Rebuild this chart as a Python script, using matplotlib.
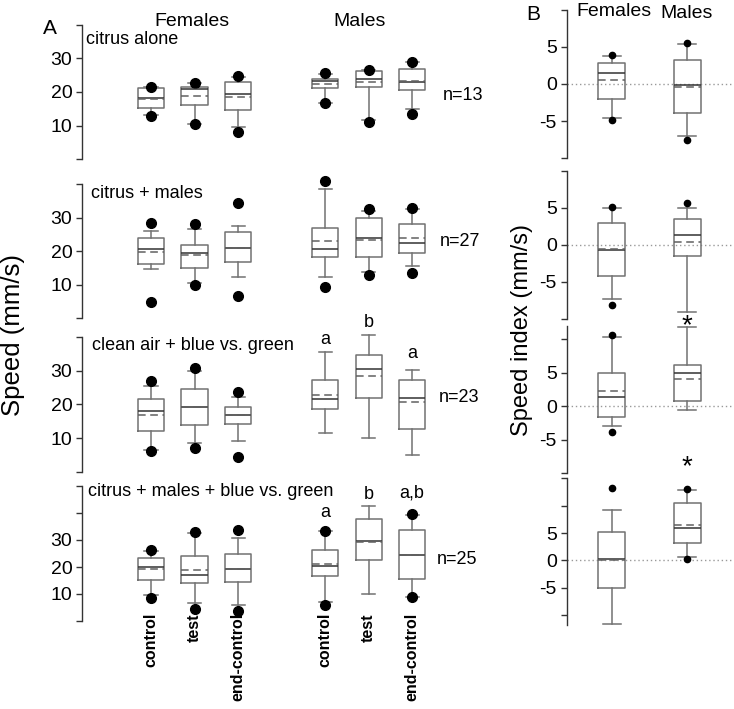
import matplotlib
matplotlib.use("Agg")
import matplotlib.pyplot as plt

plt.rcParams['font.family'] = ['Liberation Sans', 'DejaVu Sans']

W, H = 734, 709

# ---- panel A data: (whislo, q1, med, mean, q3, whishi, fliers) per box ----
groups = ["control", "test", "end-control"]
row_titles = ["citrus alone", "citrus + males",
              "clean air + blue vs. green", "citrus + males + blue vs. green"]
n_labels = ["n=13", "n=27", "n=23", "n=25"]

a1_whislo = [13.2, 10.5, 9.7, 16.6, 11.7, 14.9]
a1_q1 = [15.2, 16.1, 14.7, 21.1, 21.4, 20.6]
a1_med = [18.1, 20.8, 19.3, 23.2, 24.0, 23.0]
a1_mean = [18.0, 18.8, 18.5, 22.4, 23.0, 23.2]
a1_q3 = [21.1, 21.4, 23.1, 23.8, 26.2, 26.7]
a1_whishi = [21.4, 22.6, 24.5, 25.3, 26.5, 29.0]
a1_fliers = [[21.6, 12.9], [22.6, 10.5], [24.7, 8.0], [25.5, 16.6], [26.5, 11.1], [29.0, 13.5]]

a2_whislo = [14.7, 10.4, 12.2, 12.2, 13.9, 15.6]
a2_q1 = [16.1, 14.9, 16.8, 18.2, 18.2, 19.4]
a2_med = [20.7, 19.4, 21.0, 20.7, 24.0, 22.4]
a2_mean = [19.7, 18.9, 21.0, 23.0, 23.2, 23.9]
a2_q3 = [23.8, 21.9, 25.6, 26.8, 29.8, 28.0]
a2_whishi = [26.1, 26.7, 27.6, 38.5, 32.1, 32.5]
a2_fliers = [[28.5, 4.7], [28.1, 9.9], [34.3, 6.7], [41.0, 9.4], [32.5, 12.9], [32.8, 13.6]]

a3_whislo = [6.4, 8.6, 9.1, 11.4, 10.0, 5.0]
a3_q1 = [12.1, 13.8, 14.1, 18.5, 22.0, 12.8]
a3_med = [18.1, 19.1, 16.8, 21.5, 30.4, 21.8]
a3_mean = [16.8, 19.1, 16.7, 22.7, 28.4, 20.7]
a3_q3 = [21.7, 24.5, 19.3, 27.3, 34.6, 27.2]
a3_whishi = [25.4, 29.8, 22.3, 35.5, 40.6, 30.1]
a3_fliers = [[26.9, 6.1], [30.7, 7.1], [23.7, 4.4], [], [], []]

a4_whislo = [9.7, 6.6, 5.8, 6.9, 10.0, 9.0]
a4_q1 = [15.1, 14.0, 14.6, 16.7, 22.6, 15.7]
a4_med = [19.9, 16.9, 19.1, 20.5, 29.7, 24.4]
a4_mean = [19.1, 18.9, 19.1, 21.0, 29.1, 24.4]
a4_q3 = [23.4, 24.2, 24.9, 26.4, 37.7, 33.7]
a4_whishi = [25.9, 32.5, 30.6, 33.3, 42.6, 39.3]
a4_fliers = [[26.2, 8.4], [33.1, 4.3], [33.7, 3.7], [33.3, 5.9], [], [39.5, 9.0]]

a3_letters = ["a", "b", "a"]
a3_letter_y = [39.2, 44.5, 35.2]
a4_letters = ["a", "b", "a,b"]
a4_letter_y = [40.1, 46.7, 47.3]

# ---- panel B data: Females, Males ----
b1 = dict(whislo=[-4.6, -7.0], q1=[-2.0, -3.9], med=[1.5, -0.1], mean=[0.5, -0.4],
          q3=[2.8, 3.2], whishi=[3.8, 5.4], fliers=[[3.9, -4.8], [5.5, -7.6]])
b2 = dict(whislo=[-7.3, -9.1], q1=[-4.2, -1.5], med=[-0.7, 1.3], mean=[-0.6, 0.4],
          q3=[2.9, 3.5], whishi=[5.0, 5.0], fliers=[[5.1, -8.1], [5.7]])
b3 = dict(whislo=[-3.0, -0.5], q1=[-1.6, 0.8], med=[1.4, 5.0], mean=[2.3, 4.1],
          q3=[5.0, 6.2], whishi=[10.3, 11.8], fliers=[[10.7, -3.8], []])
b4 = dict(whislo=[-11.7, 0.6], q1=[-5.1, 3.1], med=[0.3, 5.9], mean=[0.0, 6.5],
          q3=[5.1, 10.5], whishi=[9.3, 12.9], fliers=[[13.2], [13.0, 0.3]])
b_star_y = [None, None, 12.0, 17.0]


def fig_rect(x0, y_top, x1, y_bot):
    return [x0 / W, 1 - y_bot / H, (x1 - x0) / W, (y_bot - y_top) / H]


BOXC = '#727272'
MEDC = '#333333'


def draw_boxes(ax, stats, positions, width, capw, msize):
    parts = ax.bxp(stats, positions=positions, widths=width, capwidths=capw,
                   showmeans=True, meanline=True, patch_artist=False,
                   boxprops=dict(color=BOXC, lw=1.1),
                   whiskerprops=dict(color=BOXC, lw=1.1),
                   capprops=dict(color=BOXC, lw=1.1),
                   medianprops=dict(color=MEDC, lw=1.1),
                   meanprops=dict(color='#606060', lw=1.1, ls=(0, (5, 3))),
                   flierprops=dict(marker='o', markerfacecolor='black',
                                   markeredgecolor='black', markersize=msize))
    for arts in parts.values():
        for a in arts:
            a.set_clip_on(False)


def style_axis(ax, ylim, ticks, labels):
    ax.set_ylim(*ylim)
    for s in ['top', 'right', 'bottom']:
        ax.spines[s].set_visible(False)
    ax.spines['left'].set_color('#333333')
    ax.spines['left'].set_linewidth(1.0)
    ax.set_xticks([])
    ax.set_yticks(ticks)
    ax.set_yticklabels(labels)
    ax.tick_params(axis='y', direction='out', length=4, width=1.0, color='#333333',
                   labelsize=14, pad=3)
    ax.patch.set_visible(False)


fig = plt.figure(figsize=(W / 100, H / 100), dpi=100)

# panel A
a_rows = [
    (a1_whislo, a1_q1, a1_med, a1_mean, a1_q3, a1_whishi, a1_fliers),
    (a2_whislo, a2_q1, a2_med, a2_mean, a2_q3, a2_whishi, a2_fliers),
    (a3_whislo, a3_q1, a3_med, a3_mean, a3_q3, a3_whishi, a3_fliers),
    (a4_whislo, a4_q1, a4_med, a4_mean, a4_q3, a4_whishi, a4_fliers),
]
a_extent = [(24.6, 159.4), (184.0, 318.2), (337.2, 471.6), (486.0, 621.0)]
a_ylim = [(0, 40), (0, 40), (0, 40), (0, 50)]
a_pos = [1, 2, 3, 5, 6, 7]
n_xy = [(7.71, 18.9), (7.63, 22.8), (7.61, 22.1), (7.56, 22.9)]

a_axes = []
for i, row in enumerate(a_rows):
    top, bot = a_extent[i]
    ax = fig.add_axes(fig_rect(82, top, 480, bot))
    wl, q1, md, mn, q3, wh, fl = row
    stats = [dict(whislo=wl[k], q1=q1[k], med=md[k], mean=mn[k], q3=q3[k],
                  whishi=wh[k], fliers=fl[k]) for k in range(6)]
    draw_boxes(ax, stats, a_pos, 0.6, 0.3, 7)
    ax.set_xlim(-0.586, 8.56)
    lo, hi = a_ylim[i]
    ticks = list(range(lo, hi + 1, 10))
    labels = [str(t) if t in (10, 20, 30) else '' for t in ticks]
    style_axis(ax, a_ylim[i], ticks, labels)
    ax.text(n_xy[i][0], n_xy[i][1], n_labels[i], fontsize=13, va='center', ha='left')
    a_axes.append(ax)

# row titles (figure pixel positions)
title_px = [(86, 39), (90.7, 194), (92, 346), (87.7, 491.7)]
for (x, y), t in zip(title_px, row_titles):
    fig.text(x / W, 1 - y / H, t, fontsize=13, va='center', ha='left')

for lab, ly, p in zip(a3_letters, a3_letter_y, a_pos[3:]):
    a_axes[2].text(p, ly, lab, fontsize=13, ha='center', va='center', clip_on=False)
for lab, ly, p in zip(a4_letters, a4_letter_y, a_pos[3:]):
    a_axes[3].text(p, ly, lab, fontsize=13, ha='center', va='center', clip_on=False)

# category labels below last row
for p, g in zip(a_pos, groups * 2):
    xd = a_axes[3].transData.transform((p, 0))[0]
    fig.text(xd / fig.dpi / (W / 100), 1 - 613 / H, g, rotation=90, fontsize=11.5,
             fontweight='bold', ha='center', va='top')

fig.text(50 / W, 1 - 28 / H, "A", fontsize=15, ha='center', va='center')
fig.text(192 / W, 1 - 22 / H, "Females", fontsize=14, ha='center', va='center')
fig.text(360 / W, 1 - 22 / H, "Males", fontsize=14, ha='center', va='center')
fig.text(13 / W, 1 - 335 / H, "Speed (mm/s)", fontsize=18.5, rotation=90,
         ha='center', va='center')

# panel B
b_rows = [b1, b2, b3, b4]
b_extent = [(9.5, 158.2), (170.7, 318.7), (326.0, 473.3), (478.3, 625.0)]
b_ylim = [(-10, 10), (-10, 10), (-10, 12), (-11.8, 15)]
b_ticks = [[-10, -5, 0, 5, 10], [-10, -5, 0, 5, 10], [-10, -5, 0, 5, 10],
           [-10, -5, 0, 5, 10, 15]]
for i, b in enumerate(b_rows):
    top, bot = b_extent[i]
    ax = fig.add_axes(fig_rect(566.7, top, 733, bot))
    ax.axhline(0, color='#999999', lw=1.0, ls=(0, (1, 2)), zorder=0)
    stats = [dict(whislo=b['whislo'][k], q1=b['q1'][k], med=b['med'][k],
                  mean=b['mean'][k], q3=b['q3'][k], whishi=b['whishi'][k],
                  fliers=b['fliers'][k]) for k in range(2)]
    draw_boxes(ax, stats, [1, 2], 0.36, 0.24, 4.5)
    ax.set_xlim(0.40, 2.61)
    labels = [str(t) if t in (-5, 0, 5) else '' for t in b_ticks[i]]
    style_axis(ax, b_ylim[i], b_ticks[i], labels)
    if b_star_y[i] is not None:
        ax.text(2, b_star_y[i], "*", fontsize=20, ha='center', va='center',
                clip_on=False)

fig.text(533 / W, 1 - 15 / H, "B", fontsize=15, ha='center', va='center')
fig.text(614 / W, 1 - 12 / H, "Females", fontsize=14, ha='center', va='center')
fig.text(687 / W, 1 - 13 / H, "Males", fontsize=14, ha='center', va='center')
fig.text(522 / W, 1 - 330 / H, "Speed index (mm/s)", fontsize=17, rotation=90,
         ha='center', va='center')

fig.savefig("out.png", dpi=100)
